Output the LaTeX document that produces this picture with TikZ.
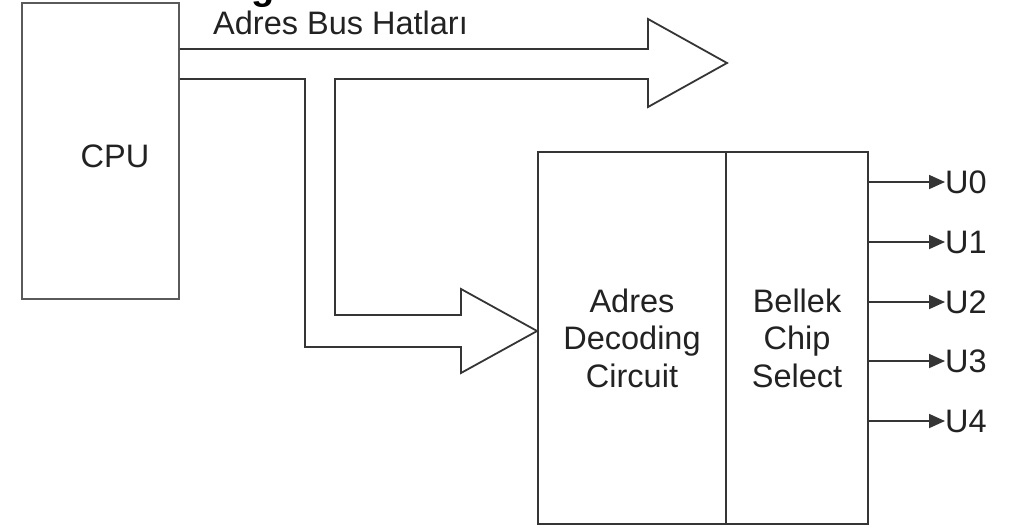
\documentclass[tikz,border=0pt]{standalone}
\usepackage{fontspec}
\setmainfont{Liberation Sans}
\usetikzlibrary{arrows.meta,calc}
\definecolor{ink}{HTML}{353535}
\definecolor{boxgray}{HTML}{5A5A5A}
\definecolor{txt}{HTML}{222222}
\tikzset{
  blk/.style={draw=ink, line width=1.8pt, minimum width=#1, inner sep=0pt, align=center,
              text=txt, font=\fontsize{32.5}{37.5}\selectfont, anchor=center},
  lbl/.style={text=txt, font=\fontsize{32.5}{37.5}\selectfont, inner sep=0pt},
  bus/.style={draw=ink, line width=1.8pt, line join=miter},
  outl/.style={draw=ink, line width=1.8pt, -{Triangle[length=16pt,width=14pt]}}
}
\begin{document}
\begin{tikzpicture}[x=1pt,y=-1pt]
  \useasboundingbox (0,0) rectangle (1016,530);
  \clip (0,0) rectangle (1016,530);

  % heading cut off at the top edge
  \node[anchor=base west, inner sep=0pt, text=black,
        font=\fontsize{38}{38}\selectfont\bfseries] (head) at (251,-1) {g};

  % processor
  \node[draw=boxgray, line width=1.8pt, minimum width=157pt, minimum height=296pt,
        inner sep=0pt] (cpu) at (100.5,151) {};
  \node[lbl] (cputxt) at (115,156) {CPU};

  % decoder and chip select blocks
  \node[blk=188pt, minimum height=372pt] (dec) at (632,338) {Adres\\Decoding\\Circuit};
  \node[blk=142pt, minimum height=372pt] (sel) at (797,338) {Bellek\\Chip\\Select};

  % address bus label
  \node[lbl, anchor=base west] (buslbl) at (213,34) {Adres Bus Hatları};

  % wide address bus with its branch to the decoder
  \coordinate (b1) at (cpu.east |- 0,49);
  \coordinate (b2) at (cpu.east |- 0,79);
  \coordinate (tip1) at (727,63);
  \coordinate (tip2) at (dec.west |- 0,331);
  \draw[bus] (b1) -- (648,49) -- (648,19) -- (tip1) -- (648,107) -- (648,79)
             -- (335,79) -- (335,315) -- (461,315) -- (461,289) -- (tip2)
             -- (461,373) -- (461,347) -- (305,347) -- (305,79) -- (b2);

  % chip select outputs
  \foreach \i/\y in {0/182,1/242,2/302,3/361,4/421}{
    \coordinate (o\i) at (sel.east |- 0,\y);
    \node[lbl, anchor=west] (u\i) at (945,\y) {U\i};
    \draw[outl] (o\i) -- (u\i.west);
  }
\end{tikzpicture}
\end{document}
